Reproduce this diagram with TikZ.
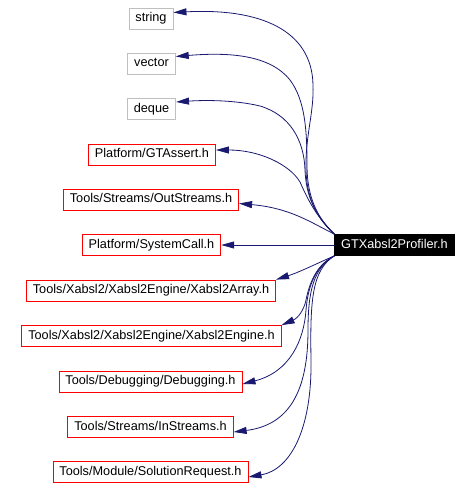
\documentclass[tikz,border=0pt]{standalone}
\usepackage{fontspec}
\setmainfont{Liberation Sans}
\usetikzlibrary{arrows.meta}
\definecolor{edgeblue}{HTML}{191970}
\definecolor{boxgray}{HTML}{BFBFBF}
\begin{document}
\begin{tikzpicture}[x=1pt, y=-1pt,
    file/.style={draw, rectangle, line width=0.8pt, minimum height=21pt, inner xsep=6.5pt, inner ysep=0pt,
      text height=9.2pt, text depth=2.6pt, font=\fontsize{12.7}{15}\selectfont},
    sys/.style={file, draw=boxgray},
    hdr/.style={file, draw=red},
    main/.style={file, draw=black, fill=black, text=white},
    dep/.style={draw=edgeblue, line width=0.8pt, -{Triangle[length=13pt, width=7pt]}}]
  \useasboundingbox (0,0) rectangle (471,489);

  \node[sys] (string) at (151,18.5) {string};
  \node[sys] (vector) at (151.5,63.5) {vector};
  \node[sys] (deque) at (151.5,109) {deque};
  \node[hdr] (gtassert) at (152,154.5) {Platform/GTAssert.h};
  \node[hdr] (outstreams) at (151,199.5) {Tools/Streams/OutStreams.h};
  \node[hdr] (systemcall) at (151.5,245) {Platform/SystemCall.h};
  \node[hdr] (array) at (151,290.5) {Tools/Xabsl2/Xabsl2Engine/Xabsl2Array.h};
  \node[hdr] (engine) at (151.5,336) {Tools/Xabsl2/Xabsl2Engine/Xabsl2Engine.h};
  \node[hdr] (debugging) at (150.5,381.5) {Tools/Debugging/Debugging.h};
  \node[hdr] (instreams) at (150.5,427) {Tools/Streams/InStreams.h};
  \node[hdr] (solreq) at (150.5,472) {Tools/Module/SolutionRequest.h};
  \node[main] (prof) at (394.5,245) {GTXabsl2Profiler.h};

  \draw[dep] (prof.north west) .. controls (312,214) and (305,190) .. (306,160)
    .. controls (307,130) and (314,110) .. (313,85)
    .. controls (312,30) and (260,8) .. ([yshift=6pt]string.east);
  \draw[dep] (prof.north west) .. controls (313,214) and (307,190) .. (307,165)
    .. controls (307,130) and (305,100) .. (290,80)
    .. controls (270,55) and (230,52) .. ([yshift=7pt]vector.east);
  \draw[dep] (prof.north west) .. controls (314,214) and (306,195) .. (305,170)
    .. controls (304,140) and (290,115) .. (260,106)
    .. controls (235,100) and (205,100) .. ([yshift=7pt]deque.east);
  \draw[dep] (prof.north west) .. controls (316,216) and (308,200) .. (300,182)
    .. controls (290,165) and (260,150) .. ([yshift=4.5pt]gtassert.east);
  \draw[dep] (prof.north west) .. controls (310,222) and (290,208) .. ([yshift=-4pt]outstreams.east);
  \draw[dep] (prof) -- (systemcall);
  \draw[dep] (prof.south west) .. controls (320,262) and (300,272) .. (array.north east);
  \draw[dep] (prof.south west) .. controls (318,264) and (310,280) .. (306,300)
    .. controls (304,310) and (298,318) .. (engine.north east);
  \draw[dep] (prof.south west) .. controls (316,266) and (308,285) .. (306,310)
    .. controls (304,340) and (290,372) .. ([yshift=-2.5pt]debugging.east);
  \draw[dep] (prof.south west) .. controls (314,268) and (308,290) .. (308,330)
    .. controls (308,390) and (290,425) .. ([yshift=-5pt]instreams.east);
  \draw[dep] (prof.south west) .. controls (312,270) and (310,300) .. (311,360)
    .. controls (312,430) and (290,470) .. ([yshift=-5pt]solreq.east);
\end{tikzpicture}
\end{document}
